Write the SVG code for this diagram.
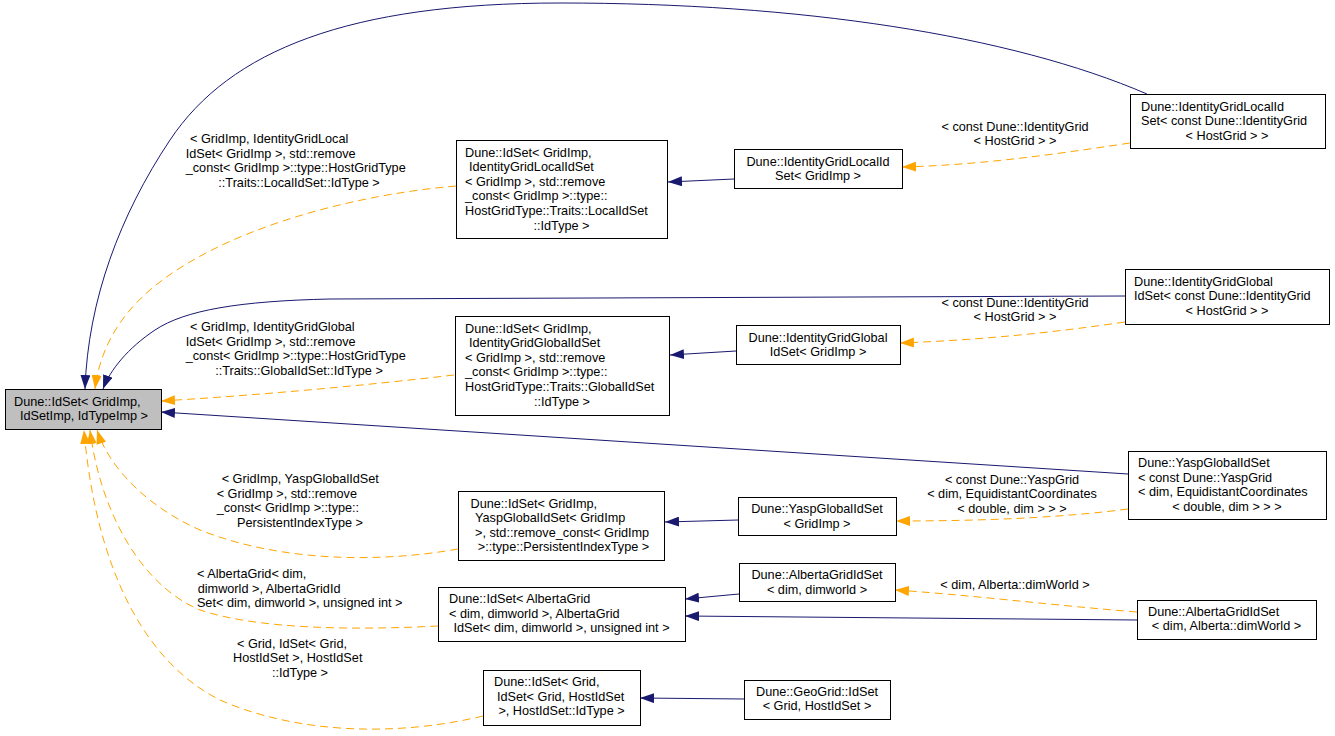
<svg xmlns="http://www.w3.org/2000/svg" width="1335" height="736" viewBox="0 0 1335 736">
<style>
text{font-family:"Liberation Sans",Arial,sans-serif;font-size:12.7px;fill:#000}
.m{text-anchor:middle}
.n rect{fill:#fff;stroke:#000;stroke-width:1}
.r rect{fill:#bfbfbf;stroke:#000;stroke-width:1}
.inh{stroke:#191970;stroke-width:1;fill:none}
.tpl{stroke:#ffa500;stroke-width:1;fill:none;stroke-dasharray:8,5}
</style>
<defs>
<marker id="an" markerUnits="userSpaceOnUse" markerWidth="14" markerHeight="10" refX="14" refY="5" orient="auto" viewBox="0 0 14 10"><path d="M0,0 L14,5 L0,10 z" fill="#191970"/></marker>
<marker id="ao" markerUnits="userSpaceOnUse" markerWidth="14" markerHeight="10" refX="14" refY="5" orient="auto" viewBox="0 0 14 10"><path d="M0,0 L14,5 L0,10 z" fill="#ffa500"/></marker>
</defs>
<rect width="1335" height="736" fill="#fff"/>
<g id="edges">
<path class="inh" marker-end="url(#an)" d="M1147,94 C1010,35 800,3 560,3 C350,3 230,50 170,140 C120,215 88,300 85,389"/>
<path class="tpl" marker-end="url(#ao)" d="M456,186 C350,195 220,230 150,290 C115,320 99,355 95,389"/>
<path class="inh" marker-end="url(#an)" d="M1125,296 L330,299 C240,301 185,310 155,330 C128,348 110,370 103,389"/>
<path class="tpl" marker-end="url(#ao)" d="M454,375 C360,386 260,395 161,401"/>
<path class="inh" marker-end="url(#an)" d="M1128,474 L161,412"/>
<path class="tpl" marker-end="url(#ao)" d="M458,549 C380,563 280,562 200,530 C150,508 110,470 97,430"/>
<path class="tpl" marker-end="url(#ao)" d="M438,626 C360,630 260,630 200,610 C140,585 100,510 90,430"/>
<path class="tpl" marker-end="url(#ao)" d="M483,716 C400,736 300,735 220,700 C140,660 95,560 84,430"/>
<path class="inh" marker-end="url(#an)" d="M734,179 L668,182"/>
<path class="tpl" marker-end="url(#ao)" d="M1130,143 C1050,155 980,165 902,167"/>
<path class="inh" marker-end="url(#an)" d="M736,351 L670,355"/>
<path class="tpl" marker-end="url(#ao)" d="M1125,322 C1050,333 980,340 900,343"/>
<path class="inh" marker-end="url(#an)" d="M738,520 L665,522"/>
<path class="tpl" marker-end="url(#ao)" d="M1128,509 C1060,518 980,521 896,521"/>
<path class="inh" marker-end="url(#an)" d="M739,594 L685,599"/>
<path class="inh" marker-end="url(#an)" d="M1137,620 L685,616"/>
<path class="tpl" marker-end="url(#ao)" d="M1137,612 C1050,605 970,595 895,590"/>
<path class="inh" marker-end="url(#an)" d="M744,699 L640,698"/>
<text x="190" y="143.3">&lt; GridImp, IdentityGridLocal</text>
<text x="185.7" y="157.7">IdSet&lt; GridImp &gt;, std::remove</text>
<text x="185.7" y="172.3">_const&lt; GridImp &gt;::type::HostGridType</text>
<text class="m" x="299" y="186.7">::Traits::LocalIdSet::IdType &gt;</text>
<text x="190" y="331">&lt; GridImp, IdentityGridGlobal</text>
<text x="185.7" y="345.6">IdSet&lt; GridImp &gt;, std::remove</text>
<text x="185.7" y="360.2">_const&lt; GridImp &gt;::type::HostGridType</text>
<text class="m" x="299" y="374.8">::Traits::GlobalIdSet::IdType &gt;</text>
<text x="221.7" y="483">&lt; GridImp, YaspGlobalIdSet</text>
<text x="216.7" y="497.7">&lt; GridImp &gt;, std::remove</text>
<text x="216.7" y="512.3">_const&lt; GridImp &gt;::type::</text>
<text class="m" x="300" y="526.7">PersistentIndexType &gt;</text>
<text x="197" y="578.3">&lt; AlbertaGrid&lt; dim,</text>
<text x="197.7" y="592.7">dimworld &gt;, AlbertaGridId</text>
<text class="m" x="299.7" y="606.7">Set&lt; dim, dimworld &gt;, unsigned int &gt;</text>
<text x="237" y="647.5">&lt; Grid, IdSet&lt; Grid,</text>
<text x="233" y="662">HostIdSet &gt;, HostIdSet</text>
<text class="m" x="300" y="676.5">::IdType &gt;</text>
<text class="m" x="1015" y="130.5">&lt; const Dune::IdentityGrid</text>
<text class="m" x="1015" y="145">&lt; HostGrid &gt; &gt;</text>
<text class="m" x="1015" y="306.5">&lt; const Dune::IdentityGrid</text>
<text class="m" x="1015" y="321">&lt; HostGrid &gt; &gt;</text>
<text class="m" x="1012" y="483.5">&lt; const Dune::YaspGrid</text>
<text class="m" x="1012" y="498">&lt; dim, EquidistantCoordinates</text>
<text class="m" x="1012" y="512.5">&lt; double, dim &gt; &gt; &gt;</text>
<text class="m" x="1015" y="588.5">&lt; dim, Alberta::dimWorld &gt;</text>
</g>
<g id="root" class="r">
<rect x="5.5" y="389.5" width="156" height="40"/>
<text x="14" y="405.5">Dune::IdSet&lt; GridImp,</text>
<text class="m" x="84" y="420">IdSetImp, IdTypeImp &gt;</text>
</g>
<g id="localBase" class="n">
<rect x="456.5" y="140.5" width="211" height="98"/>
<text x="465" y="156.5">Dune::IdSet&lt; GridImp,</text>
<text x="469" y="171.1">IdentityGridLocalIdSet</text>
<text x="465" y="185.7">&lt; GridImp &gt;, std::remove</text>
<text x="465" y="200.3">_const&lt; GridImp &gt;::type::</text>
<text x="465" y="214.9">HostGridType::Traits::LocalIdSet</text>
<text class="m" x="561.5" y="229.5">::IdType &gt;</text>
</g>
<g id="idgLocal" class="n">
<rect x="734.5" y="149.5" width="168" height="39"/>
<text class="m" x="818" y="165.5">Dune::IdentityGridLocalId</text>
<text class="m" x="818" y="180">Set&lt; GridImp &gt;</text>
</g>
<g id="localConst" class="n">
<rect x="1130.5" y="94.5" width="195" height="54"/>
<text x="1141" y="110.5">Dune::IdentityGridLocalId</text>
<text x="1141" y="125">Set&lt; const Dune::IdentityGrid</text>
<text class="m" x="1227" y="139.7">&lt; HostGrid &gt; &gt;</text>
</g>
<g id="globalBase" class="n">
<rect x="455.5" y="316.5" width="214" height="99"/>
<text x="465" y="332.5">Dune::IdSet&lt; GridImp,</text>
<text x="469" y="347.1">IdentityGridGlobalIdSet</text>
<text x="465" y="361.7">&lt; GridImp &gt;, std::remove</text>
<text x="465" y="376.3">_const&lt; GridImp &gt;::type::</text>
<text x="465" y="390.9">HostGridType::Traits::GlobalIdSet</text>
<text class="m" x="562" y="405.5">::IdType &gt;</text>
</g>
<g id="idgGlobal" class="n">
<rect x="736.5" y="325.5" width="164" height="39"/>
<text class="m" x="818" y="341.5">Dune::IdentityGridGlobal</text>
<text class="m" x="818" y="356">IdSet&lt; GridImp &gt;</text>
</g>
<g id="globalConst" class="n">
<rect x="1125.5" y="269.5" width="204" height="55"/>
<text x="1134" y="285.5">Dune::IdentityGridGlobal</text>
<text x="1134" y="300">IdSet&lt; const Dune::IdentityGrid</text>
<text class="m" x="1227" y="314.7">&lt; HostGrid &gt; &gt;</text>
</g>
<g id="yaspBase" class="n">
<rect x="458.5" y="491.5" width="206" height="69"/>
<text x="470.5" y="507.5">Dune::IdSet&lt; GridImp,</text>
<text x="475" y="522.2">YaspGlobalIdSet&lt; GridImp</text>
<text x="475" y="536.8">&gt;, std::remove_const&lt; GridImp</text>
<text class="m" x="563.5" y="551.4">&gt;::type::PersistentIndexType &gt;</text>
</g>
<g id="yaspGI" class="n">
<rect x="738.5" y="497.5" width="158" height="38"/>
<text class="m" x="817" y="513">Dune::YaspGlobalIdSet</text>
<text class="m" x="817" y="527.5">&lt; GridImp &gt;</text>
</g>
<g id="yaspConst" class="n">
<rect x="1128.5" y="451.5" width="198" height="68"/>
<text x="1138" y="467">Dune::YaspGlobalIdSet</text>
<text x="1138" y="481.6">&lt; const Dune::YaspGrid</text>
<text x="1138" y="496.2">&lt; dim, EquidistantCoordinates</text>
<text class="m" x="1227" y="510.8">&lt; double, dim &gt; &gt; &gt;</text>
</g>
<g id="albertaBase" class="n">
<rect x="438.5" y="587.5" width="247" height="54"/>
<text x="449" y="603">Dune::IdSet&lt; AlbertaGrid</text>
<text x="449" y="617.6">&lt; dim, dimworld &gt;, AlbertaGrid</text>
<text class="m" x="561.5" y="632.2">IdSet&lt; dim, dimworld &gt;, unsigned int &gt;</text>
</g>
<g id="albertaGI" class="n">
<rect x="739.5" y="563.5" width="156" height="38"/>
<text class="m" x="817" y="579">Dune::AlbertaGridIdSet</text>
<text class="m" x="817" y="593.5">&lt; dim, dimworld &gt;</text>
</g>
<g id="albertaDW" class="n">
<rect x="1137.5" y="600.5" width="179" height="39"/>
<text x="1148" y="615.5">Dune::AlbertaGridIdSet</text>
<text class="m" x="1226.5" y="630">&lt; dim, Alberta::dimWorld &gt;</text>
</g>
<g id="gridBase" class="n">
<rect x="483.5" y="670.5" width="157" height="55"/>
<text x="494" y="686">Dune::IdSet&lt; Grid,</text>
<text x="497" y="700.6">IdSet&lt; Grid, HostIdSet</text>
<text class="m" x="561.5" y="715.2">&gt;, HostIdSet::IdType &gt;</text>
</g>
<g id="geoGrid" class="n">
<rect x="744.5" y="680.5" width="146" height="39"/>
<text class="m" x="817" y="695.5">Dune::GeoGrid::IdSet</text>
<text class="m" x="817" y="710">&lt; Grid, HostIdSet &gt;</text>
</g>
</svg>
